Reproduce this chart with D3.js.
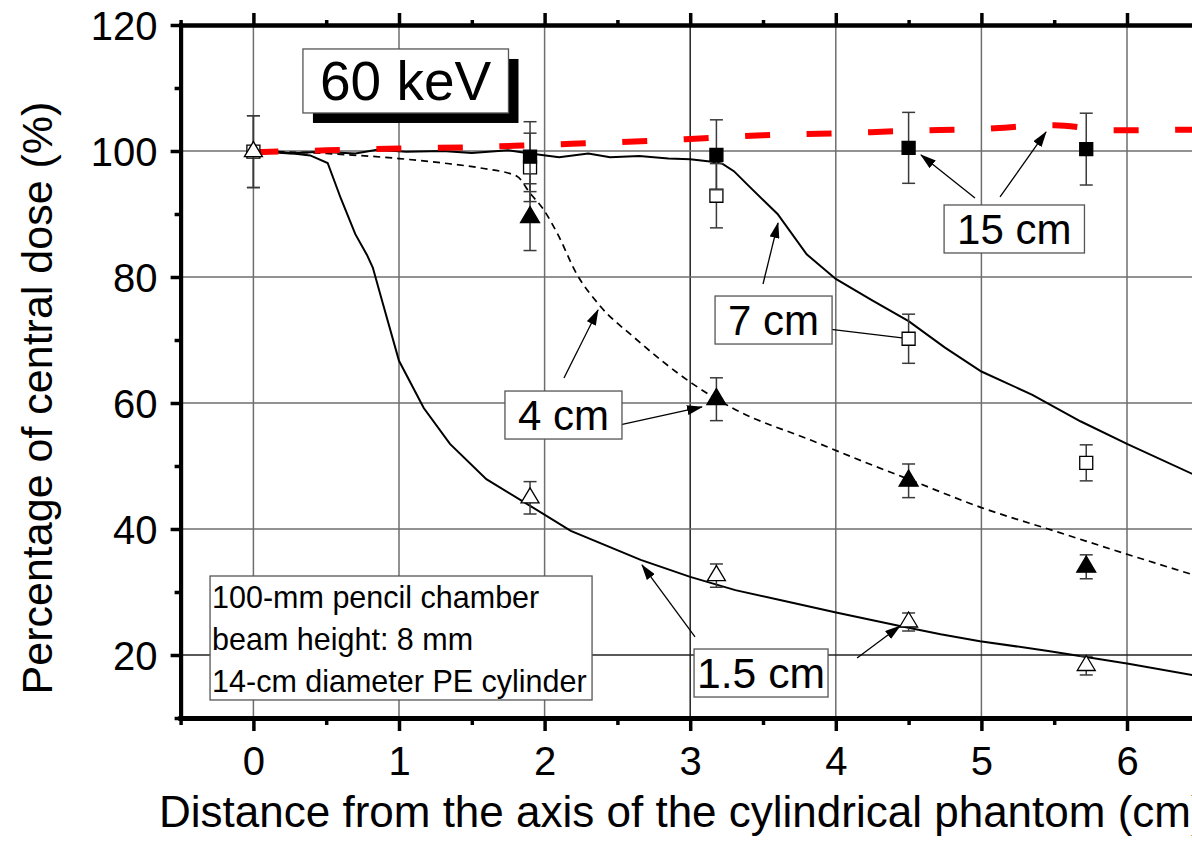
<!DOCTYPE html>
<html><head><meta charset="utf-8">
<script src="https://cdn.jsdelivr.net/npm/d3@7"></script>
<style>
html,body{margin:0;padding:0;background:#fff;overflow:hidden}
svg{display:block}
text{font-family:"Liberation Sans",Arial,Helvetica,sans-serif;fill:#000}
</style>
</head><body>
<svg id="chart" width="1192" height="845"></svg>
<script>
// ---------- data ----------
const xTicks = [0, 1, 2, 3, 4, 5, 6];
const xMinor = [-0.5, 0.5, 1.5, 2.5, 3.5, 4.5, 5.5, 6.5];
const yTicks = [20, 40, 60, 80, 100, 120];
const yMinor = [10, 30, 50, 70, 90, 110];
const gridY = [20, 40, 60, 80, 100];

// simulated / fitted profiles [distance cm, % central dose]
const curve15cm = [[0,99.8],[0.5,100.1],[1.0,100.4],[1.5,100.6],[2.0,101.0],[2.5,101.4],[3.0,101.9],[3.5,102.5],[4.0,102.8],[4.5,103.2],[5.0,103.5],[5.5,104.1],[5.9,103.3],[6.5,103.4]];
const curve7cm = [[0,100],[0.25,99.6],[0.45,99.9],[0.7,99.6],[0.85,100.2],[1.05,99.9],[1.3,100.0],[1.5,99.7],[1.75,100.1],[1.9,99.6],[2.1,99.0],[2.3,99.6],[2.45,99.0],[2.65,99.2],[2.85,98.8],[3.0,98.7],[3.15,98.3],[3.22,98.0],[3.3,96.8],[3.4,94.5],[3.6,90.0],[3.8,83.6],[4.0,79.7],[4.25,76.3],[4.5,73.0],[4.75,68.8],[5.0,65.0],[5.35,61.3],[5.68,57.1],[6.0,53.5],[6.5,48.2]];
const curve4cm = [[0,100],[0.5,99.6],[1.0,98.8],[1.3,98.1],[1.56,97.3],[1.81,96.0],[1.9,93.3],[1.99,90.8],[2.09,86.8],[2.22,80.5],[2.37,75.7],[2.62,70.3],[3.02,63.0],[3.29,59.2],[3.84,54.0],[4.2,50.6],[4.5,47.9],[5.0,43.4],[5.5,39.7],[6.0,36.0],[6.5,32.4]];
const curve1_5cm = [[0,100],[0.2,99.8],[0.39,99.3],[0.51,98.1],[0.6,92.5],[0.7,86.8],[0.78,83.5],[0.82,81.5],[0.89,75.7],[1.0,66.7],[1.17,59.2],[1.35,53.5],[1.6,47.9],[1.85,44.4],[2.18,39.7],[2.66,35.1],[3.0,32.4],[3.31,30.3],[3.64,28.6],[4.01,26.7],[4.44,24.6],[4.72,23.3],[4.99,22.2],[5.47,20.6],[6.01,18.6],[6.5,16.6]];

// measured points
const measX    = [0, 1.9, 3.18, 4.5, 5.72];
const meas15   = [null, 99.1, 99.4, 100.5, 100.3];
const err15    = [null, 5.55, 5.55, 5.63, 5.7];
const meas7    = [99.9, 97.4, 92.9, 70.2, 50.5];
const err7     = [5.7, 5.43, 5.1, 3.9, 2.86];
const meas4    = [null, 89.5, 60.6, 47.65, 34.0];
const err4     = [null, 5.3, 3.4, 2.67, 1.9];
const meas1_5  = [99.9, 44.95, 32.6, 25.24, 18.33];
const err1_5   = [5.7, 2.57, 1.85, 1.43, 1.5];

const titleText = "60 keV";
const noteLines = ["100-mm pencil chamber", "beam height: 8 mm", "14-cm diameter PE cylinder"];
const labelTexts = ["15 cm", "7 cm", "4 cm", "1.5 cm"];
const labelX = [4.833, 3.26, 1.817, 3.047];
const labelY = [85.24, 70.79, 55.71, 14.76];
// annotation arrows: [fromX, fromY, toX, toY, head]
const arrows = [
  [4.956, 92.54, 4.585, 99.37, 1],
  [5.128, 92.70, 5.444, 103.02, 1],
  [3.500, 78.89, 3.603, 88.57, 1],
  [3.939, 71.75, 4.455, 70.35, 0],
  [2.133, 63.97, 2.367, 74.76, 1],
  [2.518, 56.51, 3.081, 59.37, 1],
  [3.033, 22.86, 2.669, 34.29, 1],
  [4.146, 19.52, 4.441, 24.60, 1]
];

// ---------- scales ----------
const svg = d3.select("#chart");
const x = d3.scaleLinear().domain([-0.5, 7]).range([180.6, 180.6 + 7.5 * 145.6]);
const y = d3.scaleLinear().domain([10, 120]).range([718, 25]);
const X0 = x(-0.5), X1 = x(7), Y0 = y(10), Y1 = y(120);

// ---------- grid ----------
const grid = svg.append("g");
grid.selectAll("line.gx").data(xTicks).enter().append("line")
  .attr("x1", d => x(d)).attr("x2", d => x(d)).attr("y1", Y0).attr("y2", Y1)
  .attr("stroke", d => d === 3 ? "#222" : "#6e6e6e").attr("stroke-width", 1.5);
grid.selectAll("line.gy").data(gridY).enter().append("line")
  .attr("x1", X0).attr("x2", X1).attr("y1", d => y(d)).attr("y2", d => y(d))
  .attr("stroke", d => d === 20 ? "#222" : "#6e6e6e").attr("stroke-width", 1.5);

// ---------- curves ----------
const lineLin = d3.line().x(d => x(d[0])).y(d => y(d[1]));
const lineMono = d3.line().x(d => x(d[0])).y(d => y(d[1])).curve(d3.curveMonotoneX);
svg.append("path").attr("d", lineLin(curve1_5cm)).attr("fill", "none").attr("stroke", "#000").attr("stroke-width", 2);
svg.append("path").attr("d", lineMono(curve4cm)).attr("fill", "none").attr("stroke", "#000").attr("stroke-width", 1.7).attr("stroke-dasharray", "7,5");
svg.append("path").attr("d", lineLin(curve7cm)).attr("fill", "none").attr("stroke", "#000").attr("stroke-width", 2);
svg.append("path").attr("d", lineMono(curve15cm)).attr("fill", "none").attr("stroke", "#ff0000").attr("stroke-width", 6).attr("stroke-dasharray", "25,36.5");

// ---------- markers ----------
const triPath = (w, h) => `M0,${-2*h/3} L${w/2},${h/3} L${-w/2},${h/3} Z`;
const sqPath = s => `M${-s/2},${-s/2} h${s} v${s} h${-s} Z`;
function series(vals, errs, shape, fill) {
  const pts = measX.map((d, i) => ({x: d, v: vals[i], e: errs[i], i})).filter(p => p.v !== null);
  const g = svg.append("g");
  const eb = g.selectAll("g.eb").data(pts).enter().append("g");
  eb.append("line").attr("x1", p => x(p.x)).attr("x2", p => x(p.x)).attr("y1", p => y(p.v + p.e)).attr("y2", p => y(p.v - p.e))
    .attr("stroke", "#3a3a3a").attr("stroke-width", 1.5);
  [1, -1].forEach(s => {
    eb.append("line").attr("x1", p => x(p.x) - 6.5).attr("x2", p => x(p.x) + 6.5)
      .attr("y1", p => y(p.v + s * p.e)).attr("y2", p => y(p.v + s * p.e))
      .attr("stroke", "#3a3a3a").attr("stroke-width", 1.5);
  });
  g.selectAll("path.m").data(pts).enter().append("path")
    .attr("d", shape).attr("transform", p => `translate(${x(p.x)},${y(p.v)})`)
    .attr("fill", fill).attr("stroke", "#000").attr("stroke-width", 1.3);
}
series(meas7, err7, sqPath(13), "#fff");
series(meas15, err15, sqPath(13), "#000");
series(meas4, err4, triPath(19, 16), "#000");
series(meas1_5, err1_5, triPath(18, 15), "#fff");

// ---------- axes ----------
function styleAxis(g, w) {
  g.select(".domain").attr("stroke", "#000").attr("stroke-width", w).attr("stroke-linecap", "square");
  g.selectAll(".tick line").attr("stroke", "#000").attr("stroke-width", 3.5);
}
const gl = svg.append("g").attr("transform", `translate(${X0},0)`);
gl.call(d3.axisLeft(y).tickValues(yMinor).tickSize(6).tickSizeOuter(0).tickFormat(""));
const glM = svg.append("g").attr("transform", `translate(${X0},0)`)
  .call(d3.axisLeft(y).tickValues(yTicks).tickSize(10).tickPadding(13).tickSizeOuter(0));
styleAxis(gl, 4); styleAxis(glM, 4);
glM.selectAll(".tick text").attr("font-size", 40).attr("dy", null).attr("y", 14.5)
  .attr("font-family", '"Liberation Sans",Arial,sans-serif').attr("fill", "#000");

const gb = svg.append("g").attr("transform", `translate(0,${Y0})`)
  .call(d3.axisBottom(x).tickValues(xMinor).tickSize(7).tickSizeOuter(0).tickFormat(""));
const gbM = svg.append("g").attr("transform", `translate(0,${Y0})`)
  .call(d3.axisBottom(x).tickValues(xTicks).tickSize(13).tickSizeOuter(0));
styleAxis(gb, 5); styleAxis(gbM, 5);
gbM.selectAll(".tick text").attr("font-size", 40).attr("dy", null).attr("y", 775 - Y0)
  .attr("font-family", '"Liberation Sans",Arial,sans-serif').attr("fill", "#000");

const gt = svg.append("g").attr("transform", `translate(0,${Y1})`)
  .call(d3.axisTop(x).tickValues(xMinor).tickSize(5).tickSizeOuter(0).tickFormat(""));
const gtM = svg.append("g").attr("transform", `translate(0,${Y1})`)
  .call(d3.axisTop(x).tickValues(xTicks).tickSize(12).tickSizeOuter(0).tickFormat(""));
styleAxis(gt, 4); styleAxis(gtM, 4);

// axis titles
svg.append("text").attr("x", 159).attr("y", 827).attr("font-size", 44)
  .text("Distance from the axis of the cylindrical phantom (cm)");
svg.append("text").attr("transform", `translate(52,398) rotate(-90)`).attr("text-anchor", "middle")
  .attr("font-size", 43).text("Percentage of central dose (%)");

// ---------- title box with shadow ----------
const tt = svg.append("text").attr("x", x(0.457)).attr("y", y(108.1)).attr("font-size", 55).text(titleText);
const tb = tt.node().getBBox();
const tbx = tb.x - 17, tby = tb.y - 1, tbw = tb.width + 34, tbh = tb.height + 2;
svg.insert("rect", () => tt.node()).attr("x", tbx + 10).attr("y", tby + 10).attr("width", tbw).attr("height", tbh).attr("fill", "#000");
svg.insert("rect", () => tt.node()).attr("x", tbx).attr("y", tby).attr("width", tbw).attr("height", tbh)
  .attr("fill", "#fff").attr("stroke", "#555").attr("stroke-width", 1.3);

// ---------- notes box ----------
const noteG = svg.append("g");
const noteBox = noteG.append("rect").attr("fill", "#fff").attr("stroke", "#555").attr("stroke-width", 1.3);
const baseNotes = [27.46, 20.79, 14.13];
noteLines.forEach((t, i) => noteG.append("text").attr("x", x(-0.284)).attr("y", y(baseNotes[i])).attr("font-size", 30.5).text(t));
noteBox.attr("x", x(-0.284) - 2).attr("y", y(baseNotes[0]) - 32).attr("width", 382).attr("height", y(baseNotes[2]) + 8 - (y(baseNotes[0]) - 32));

// ---------- arrows ----------
const defs = svg.append("defs");
defs.append("marker").attr("id", "ah").attr("markerUnits", "userSpaceOnUse")
  .attr("markerWidth", 16).attr("markerHeight", 10).attr("refX", 15).attr("refY", 5).attr("orient", "auto")
  .append("path").attr("d", "M0,0 L16,5 L0,10 Z").attr("fill", "#000");
svg.selectAll("line.arr").data(arrows).enter().append("line")
  .attr("x1", d => x(d[0])).attr("y1", d => y(d[1])).attr("x2", d => x(d[2])).attr("y2", d => y(d[3]))
  .attr("stroke", "#000").attr("stroke-width", 1.3)
  .attr("marker-end", d => d[4] ? "url(#ah)" : null);

// ---------- label boxes ----------
labelTexts.forEach((t, i) => {
  const g = svg.append("g");
  const r = g.append("rect").attr("fill", "#fff").attr("stroke", "#555").attr("stroke-width", 1.3);
  const tx = g.append("text").attr("x", x(labelX[i])).attr("y", y(labelY[i])).attr("font-size", 42).text(t);
  if (t === "1.5 cm") tx.attr("textLength", 128).attr("lengthAdjust", "spacingAndGlyphs");
  const b = tx.node().getBBox();
  const px = t === "1.5 cm" ? 3 : 13;
  r.attr("x", b.x - px).attr("y", b.y - 1).attr("width", b.width + 2 * px).attr("height", b.height + 1);
});
</script>
</body></html>
